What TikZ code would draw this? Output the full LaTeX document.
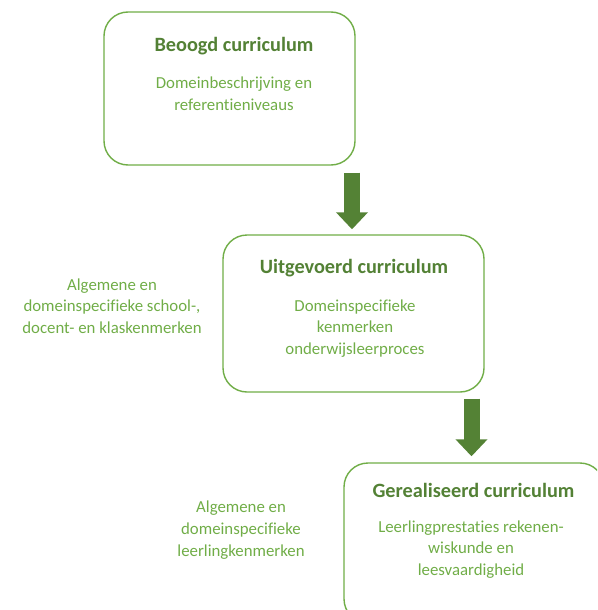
\documentclass[tikz,border=0pt]{standalone}
\usepackage{fontspec}
\setmainfont{Carlito}[Ligatures=CommonOff]
\usetikzlibrary{arrows.meta,positioning}
\definecolor{boxgreen}{HTML}{70AD47}
\definecolor{titlegreen}{HTML}{538135}
\definecolor{arrowgreen}{HTML}{548235}

\begin{document}
\begin{tikzpicture}[x=1pt,y=-1pt,
        stage/.style={draw=boxgreen,line width=1.4pt,rounded corners=24pt,inner sep=0pt},
        title/.style={font=\fontsize{20.3}{24}\selectfont\bfseries,text=titlegreen},
        body/.style={font=\fontsize{16.8}{21.7}\selectfont,text=boxgreen,align=center},
        flow/.style={arrowgreen,line width=16pt,-{Triangle[width=31pt,length=17pt]}}]
        \useasboundingbox (0,0) rectangle (597,610);
        \clip (0,0) rectangle (597,610);

        % the three curriculum boxes
        \node[stage,minimum width=251pt,minimum height=153pt] (beoogd)       at (229.5,88.5) {};
        \node[stage,minimum width=261pt,minimum height=157pt] (uitgevoerd)   at (353.5,313.5) {};
        \node[stage,minimum width=260pt,minimum height=160pt] (gerealiseerd) at (474,543) {};

        \node[title] (beoogdT)       at (234,46)  {Beoogd curriculum};
        \node[body]  (beoogdB)       at (234,93.5) {Domeinbeschrijving en\\referentieniveaus};
        \node[title] (uitgevoerdT)   at (354,268) {Uitgevoerd curriculum};
        \node[body]  (uitgevoerdB)   at (355,328.5) {Domeinspecifieke\\kenmerken\\onderwijsleerproces};
        \node[title] (gerealiseerdT) at (473.5,490) {Gerealiseerd curriculum};
        \node[body]  (gerealiseerdB) at (471,549.5) {Leerlingprestaties rekenen-\\wiskunde en\\leesvaardigheid};

        % side notes
        \node[body] (school)   at (112,306) {Algemene en\\domeinspecifieke school-,\\docent- en klaskenmerken};
        \node[body] (leerling) at (241,530) {Algemene en\\domeinspecifieke\\leerlingkenmerken};

        % block arrows
        \coordinate (in1) at ([xshift=-1.5pt]uitgevoerd.north);
        \coordinate (in2) at ([xshift=-2.5pt]gerealiseerd.north);
        \draw[flow,shorten <=7pt,shorten >=5pt] (beoogd.south -| in1) -- (in1);
        \draw[flow,shorten <=6pt,shorten >=6pt] (uitgevoerd.south -| in2) -- (in2);
    \end{tikzpicture}
\end{document}
